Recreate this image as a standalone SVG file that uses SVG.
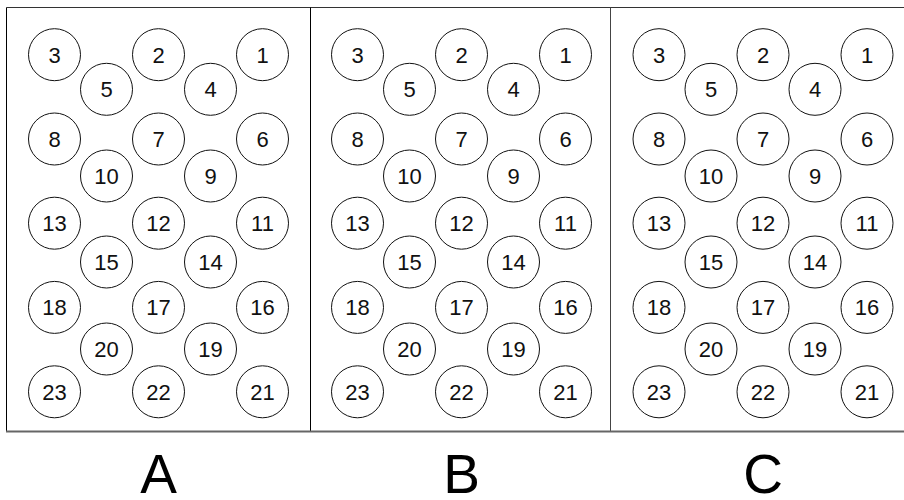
<svg xmlns="http://www.w3.org/2000/svg" width="904" height="500" viewBox="0 0 904 500">
<style>
.n circle{fill:#fff;stroke:#111;stroke-width:1}
.n text{font-family:"Liberation Sans",Arial,sans-serif;font-size:22px;fill:#111;text-anchor:middle}
.big{font-family:"Liberation Sans",Arial,sans-serif;font-size:55px;fill:#000;text-anchor:middle}
.frame{stroke:#000;stroke-width:1;fill:none}
</style>
<rect width="904" height="500" fill="#fff"/>
<g id="frames">
<line class="frame" x1="6.5" y1="7.5" x2="904" y2="7.5" style="stroke:#333"/>
<line class="frame" x1="6.5" y1="7.5" x2="6.5" y2="431"/>
<line class="frame" x1="310.5" y1="7.5" x2="310.5" y2="431"/>
<line class="frame" x1="610.5" y1="7.5" x2="610.5" y2="431" style="stroke:#444"/>
<line x1="6" y1="431.5" x2="904" y2="431.5" stroke="#666" stroke-width="2"/>
</g>
<g id="connectors"></g>
<g id="panelA">
<g id="A3" class="n"><circle cx="54.5" cy="54.7" r="26"/><text x="54.5" y="62.5">3</text></g>
<g id="A2" class="n"><circle cx="158.5" cy="54.7" r="26"/><text x="158.5" y="62.5">2</text></g>
<g id="A1" class="n"><circle cx="262.5" cy="54.7" r="26"/><text x="262.5" y="62.5">1</text></g>
<g id="A5" class="n"><circle cx="106.5" cy="89.3" r="26"/><text x="106.5" y="97.1">5</text></g>
<g id="A4" class="n"><circle cx="210.5" cy="89.3" r="26"/><text x="210.5" y="97.1">4</text></g>
<g id="A8" class="n"><circle cx="54.5" cy="139" r="26"/><text x="54.5" y="146.8">8</text></g>
<g id="A7" class="n"><circle cx="158.5" cy="139" r="26"/><text x="158.5" y="146.8">7</text></g>
<g id="A6" class="n"><circle cx="262.5" cy="139" r="26"/><text x="262.5" y="146.8">6</text></g>
<g id="A10" class="n"><circle cx="106.5" cy="176" r="26"/><text x="106.5" y="183.8">10</text></g>
<g id="A9" class="n"><circle cx="210.5" cy="176" r="26"/><text x="210.5" y="183.8">9</text></g>
<g id="A13" class="n"><circle cx="54.5" cy="223.2" r="26"/><text x="54.5" y="231">13</text></g>
<g id="A12" class="n"><circle cx="158.5" cy="223.2" r="26"/><text x="158.5" y="231">12</text></g>
<g id="A11" class="n"><circle cx="262.5" cy="223.2" r="26"/><text x="262.5" y="231">11</text></g>
<g id="A15" class="n"><circle cx="106.5" cy="262" r="26"/><text x="106.5" y="269.8">15</text></g>
<g id="A14" class="n"><circle cx="210.5" cy="262" r="26"/><text x="210.5" y="269.8">14</text></g>
<g id="A18" class="n"><circle cx="54.5" cy="307.4" r="26"/><text x="54.5" y="315.2">18</text></g>
<g id="A17" class="n"><circle cx="158.5" cy="307.4" r="26"/><text x="158.5" y="315.2">17</text></g>
<g id="A16" class="n"><circle cx="262.5" cy="307.4" r="26"/><text x="262.5" y="315.2">16</text></g>
<g id="A20" class="n"><circle cx="106.5" cy="349" r="26"/><text x="106.5" y="356.8">20</text></g>
<g id="A19" class="n"><circle cx="210.5" cy="349" r="26"/><text x="210.5" y="356.8">19</text></g>
<g id="A23" class="n"><circle cx="54.5" cy="391.8" r="26"/><text x="54.5" y="399.6">23</text></g>
<g id="A22" class="n"><circle cx="158.5" cy="391.8" r="26"/><text x="158.5" y="399.6">22</text></g>
<g id="A21" class="n"><circle cx="262.5" cy="391.8" r="26"/><text x="262.5" y="399.6">21</text></g>
</g>
<g id="panelB" transform="translate(303,0)">
<g id="B3" class="n"><circle cx="54.5" cy="54.7" r="26"/><text x="54.5" y="62.5">3</text></g>
<g id="B2" class="n"><circle cx="158.5" cy="54.7" r="26"/><text x="158.5" y="62.5">2</text></g>
<g id="B1" class="n"><circle cx="262.5" cy="54.7" r="26"/><text x="262.5" y="62.5">1</text></g>
<g id="B5" class="n"><circle cx="106.5" cy="89.3" r="26"/><text x="106.5" y="97.1">5</text></g>
<g id="B4" class="n"><circle cx="210.5" cy="89.3" r="26"/><text x="210.5" y="97.1">4</text></g>
<g id="B8" class="n"><circle cx="54.5" cy="139" r="26"/><text x="54.5" y="146.8">8</text></g>
<g id="B7" class="n"><circle cx="158.5" cy="139" r="26"/><text x="158.5" y="146.8">7</text></g>
<g id="B6" class="n"><circle cx="262.5" cy="139" r="26"/><text x="262.5" y="146.8">6</text></g>
<g id="B10" class="n"><circle cx="106.5" cy="176" r="26"/><text x="106.5" y="183.8">10</text></g>
<g id="B9" class="n"><circle cx="210.5" cy="176" r="26"/><text x="210.5" y="183.8">9</text></g>
<g id="B13" class="n"><circle cx="54.5" cy="223.2" r="26"/><text x="54.5" y="231">13</text></g>
<g id="B12" class="n"><circle cx="158.5" cy="223.2" r="26"/><text x="158.5" y="231">12</text></g>
<g id="B11" class="n"><circle cx="262.5" cy="223.2" r="26"/><text x="262.5" y="231">11</text></g>
<g id="B15" class="n"><circle cx="106.5" cy="262" r="26"/><text x="106.5" y="269.8">15</text></g>
<g id="B14" class="n"><circle cx="210.5" cy="262" r="26"/><text x="210.5" y="269.8">14</text></g>
<g id="B18" class="n"><circle cx="54.5" cy="307.4" r="26"/><text x="54.5" y="315.2">18</text></g>
<g id="B17" class="n"><circle cx="158.5" cy="307.4" r="26"/><text x="158.5" y="315.2">17</text></g>
<g id="B16" class="n"><circle cx="262.5" cy="307.4" r="26"/><text x="262.5" y="315.2">16</text></g>
<g id="B20" class="n"><circle cx="106.5" cy="349" r="26"/><text x="106.5" y="356.8">20</text></g>
<g id="B19" class="n"><circle cx="210.5" cy="349" r="26"/><text x="210.5" y="356.8">19</text></g>
<g id="B23" class="n"><circle cx="54.5" cy="391.8" r="26"/><text x="54.5" y="399.6">23</text></g>
<g id="B22" class="n"><circle cx="158.5" cy="391.8" r="26"/><text x="158.5" y="399.6">22</text></g>
<g id="B21" class="n"><circle cx="262.5" cy="391.8" r="26"/><text x="262.5" y="399.6">21</text></g>
</g>
<g id="panelC" transform="translate(604.5,0)">
<g id="C3" class="n"><circle cx="54.5" cy="54.7" r="26"/><text x="54.5" y="62.5">3</text></g>
<g id="C2" class="n"><circle cx="158.5" cy="54.7" r="26"/><text x="158.5" y="62.5">2</text></g>
<g id="C1" class="n"><circle cx="262.5" cy="54.7" r="26"/><text x="262.5" y="62.5">1</text></g>
<g id="C5" class="n"><circle cx="106.5" cy="89.3" r="26"/><text x="106.5" y="97.1">5</text></g>
<g id="C4" class="n"><circle cx="210.5" cy="89.3" r="26"/><text x="210.5" y="97.1">4</text></g>
<g id="C8" class="n"><circle cx="54.5" cy="139" r="26"/><text x="54.5" y="146.8">8</text></g>
<g id="C7" class="n"><circle cx="158.5" cy="139" r="26"/><text x="158.5" y="146.8">7</text></g>
<g id="C6" class="n"><circle cx="262.5" cy="139" r="26"/><text x="262.5" y="146.8">6</text></g>
<g id="C10" class="n"><circle cx="106.5" cy="176" r="26"/><text x="106.5" y="183.8">10</text></g>
<g id="C9" class="n"><circle cx="210.5" cy="176" r="26"/><text x="210.5" y="183.8">9</text></g>
<g id="C13" class="n"><circle cx="54.5" cy="223.2" r="26"/><text x="54.5" y="231">13</text></g>
<g id="C12" class="n"><circle cx="158.5" cy="223.2" r="26"/><text x="158.5" y="231">12</text></g>
<g id="C11" class="n"><circle cx="262.5" cy="223.2" r="26"/><text x="262.5" y="231">11</text></g>
<g id="C15" class="n"><circle cx="106.5" cy="262" r="26"/><text x="106.5" y="269.8">15</text></g>
<g id="C14" class="n"><circle cx="210.5" cy="262" r="26"/><text x="210.5" y="269.8">14</text></g>
<g id="C18" class="n"><circle cx="54.5" cy="307.4" r="26"/><text x="54.5" y="315.2">18</text></g>
<g id="C17" class="n"><circle cx="158.5" cy="307.4" r="26"/><text x="158.5" y="315.2">17</text></g>
<g id="C16" class="n"><circle cx="262.5" cy="307.4" r="26"/><text x="262.5" y="315.2">16</text></g>
<g id="C20" class="n"><circle cx="106.5" cy="349" r="26"/><text x="106.5" y="356.8">20</text></g>
<g id="C19" class="n"><circle cx="210.5" cy="349" r="26"/><text x="210.5" y="356.8">19</text></g>
<g id="C23" class="n"><circle cx="54.5" cy="391.8" r="26"/><text x="54.5" y="399.6">23</text></g>
<g id="C22" class="n"><circle cx="158.5" cy="391.8" r="26"/><text x="158.5" y="399.6">22</text></g>
<g id="C21" class="n"><circle cx="262.5" cy="391.8" r="26"/><text x="262.5" y="399.6">21</text></g>
</g>
<g id="labels">
<text class="big" x="158.5" y="493">A</text>
<text class="big" x="461.5" y="493">B</text>
<text class="big" x="763" y="493">C</text>
</g>
</svg>
